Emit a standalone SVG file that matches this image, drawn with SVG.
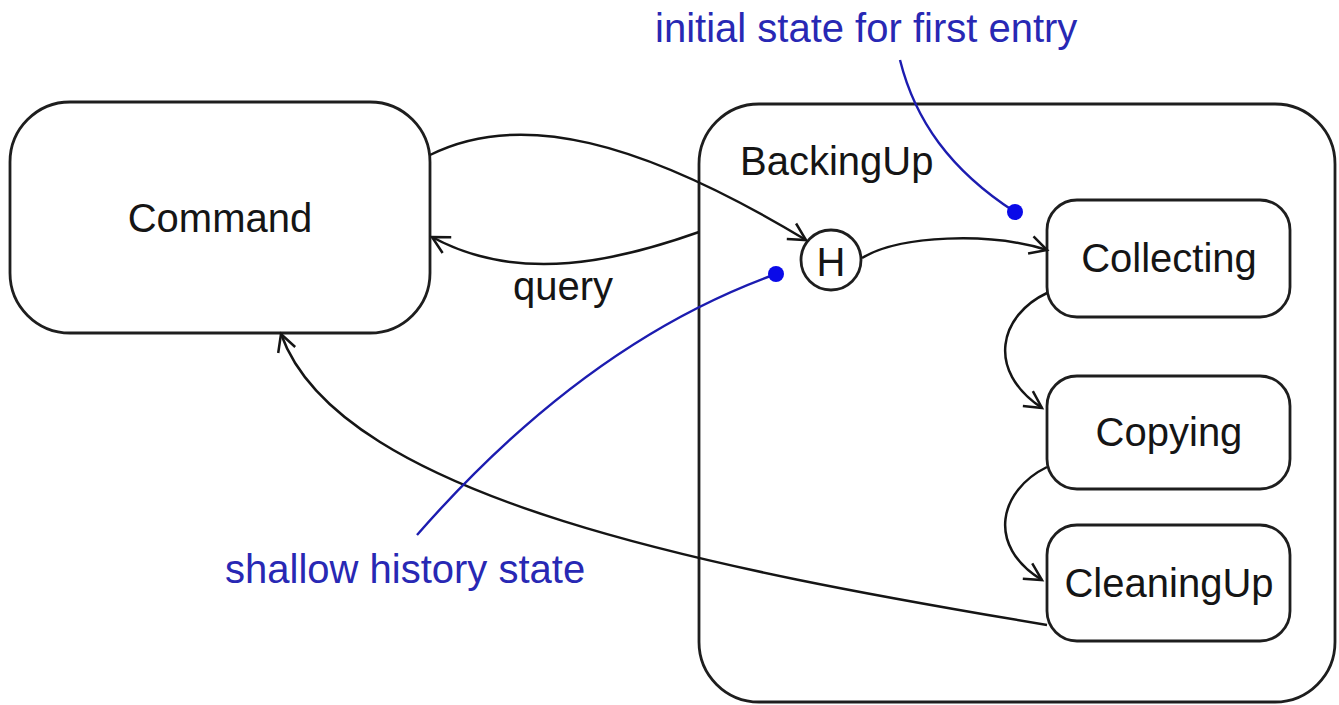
<svg xmlns="http://www.w3.org/2000/svg" width="1339" height="705" viewBox="0 0 1339 705">
<style>
.box{fill:#fff;stroke:#1e1e1e;stroke-width:2.8}
.lbl{font-family:"Liberation Sans",Arial,sans-serif;font-size:40px;fill:#151515}
.note{font-family:"Liberation Sans",Arial,sans-serif;font-size:40px;fill:#2828b4}
.con{fill:none;stroke:#151515;stroke-width:2.5}
.blue{fill:none;stroke:#1c1cb0;stroke-width:2.4}
.dot{fill:#0a0ae8}
</style>
<defs>
<marker id="arr" markerUnits="userSpaceOnUse" markerWidth="30" markerHeight="30" viewBox="-20 -15 24 30" refX="0" refY="0" orient="auto">
<path d="M-17,-9 L0,0 L-17,9" fill="none" stroke="#151515" stroke-width="2.5"/>
</marker>
</defs>
<rect width="1339" height="705" fill="#fff"/>
<g id="backingup">
<rect class="box" x="699" y="104" width="636" height="598" rx="60" ry="60"/>
<text class="lbl" x="740" y="175">BackingUp</text>
</g>
<g id="command">
<rect class="box" x="10" y="102" width="420" height="231" rx="60" ry="60"/>
<text class="lbl" x="220" y="232" text-anchor="middle">Command</text>
</g>
<g id="history">
<circle class="box" cx="831" cy="260" r="30" stroke-width="2.4"/>
<text class="lbl" x="831" y="276" text-anchor="middle" font-size="44">H</text>
</g>
<g id="collecting">
<rect class="box" x="1047" y="200" width="243" height="117" rx="30" ry="30"/>
<text class="lbl" x="1169" y="272" text-anchor="middle">Collecting</text>
</g>
<g id="copying">
<rect class="box" x="1047" y="376" width="243" height="113" rx="30" ry="30"/>
<text class="lbl" x="1169" y="446" text-anchor="middle">Copying</text>
</g>
<g id="cleaningup">
<rect class="box" x="1047" y="525" width="243" height="116" rx="30" ry="30"/>
<text class="lbl" x="1169" y="597" text-anchor="middle">CleaningUp</text>
</g>
<g id="connectors">
<path class="con" d="M430,155 C520,110 640,140 806,240" marker-end="url(#arr)"/>
<path class="con" d="M699,232 C620,260 520,285 432,237" marker-end="url(#arr)"/>
<text class="lbl" x="513" y="300">query</text>
<path class="con" d="M862,258 C900,235 990,232 1047,250" marker-end="url(#arr)"/>
<path class="con" d="M1047,293 C1000,315 985,370 1042,408" marker-end="url(#arr)"/>
<path class="con" d="M1047,467 C1000,490 985,545 1042,580" marker-end="url(#arr)"/>
<path class="con" d="M1047,625 C720,570 340,500 281,334" marker-end="url(#arr)"/>
</g>
<g id="notes">
<text class="note" x="655" y="42">initial state for first entry</text>
<path class="blue" d="M900,60 C915,120 950,170 1015,212"/>
<circle class="dot" cx="1015" cy="212" r="8"/>
<text class="note" x="225" y="583">shallow history state</text>
<path class="blue" d="M417,535 C500,440 620,330 776,274"/>
<circle class="dot" cx="776" cy="274" r="8"/>
</g>
</svg>
